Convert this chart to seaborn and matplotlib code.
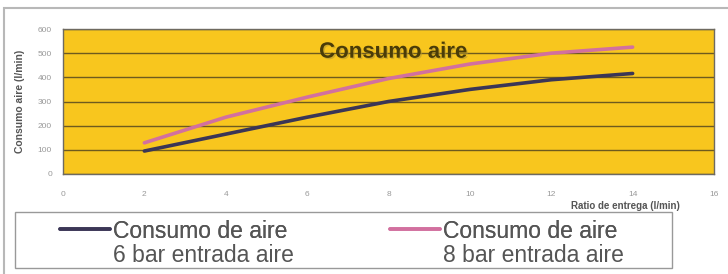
import numpy as np
import pandas as pd
import matplotlib
matplotlib.use('Agg')
import matplotlib.pyplot as plt
import matplotlib.patheffects as pe
from matplotlib.patches import Rectangle
import seaborn as sns

ratio = [2, 4, 6, 8, 10, 12, 14]
consumo_6bar = [95, 165, 235, 300, 350, 390, 416]
consumo_8bar = [129, 235, 318, 395, 455, 500, 525]
series_names = ['Consumo de aire\n6 bar entrada aire', 'Consumo de aire\n8 bar entrada aire']
colors = ['#3b3656', '#d2709f']

df = pd.DataFrame({
    'ratio': ratio * 2,
    'consumo': consumo_6bar + consumo_8bar,
    'serie': [series_names[0]] * len(ratio) + [series_names[1]] * len(ratio),
})

sns.set_style('white')
plt.rcParams['font.family'] = ['Liberation Sans', 'DejaVu Sans']

W, H = 728, 274
fig = plt.figure(figsize=(7.28, 2.74), dpi=100)
fig.patch.set_facecolor('white')
ax = fig.add_axes([63 / W, 1 - 174 / H, 651 / W, 145 / H])
ax.set_facecolor('#f8c61e')

sns.lineplot(data=df, x='ratio', y='consumo', hue='serie', palette=colors,
             linewidth=2.6, ax=ax, legend=False)

ax.set_xlim(0, 16)
ax.set_ylim(0, 600)
ax.set_xticks(range(0, 17, 2))
ax.set_yticks(range(0, 601, 100))
ax.yaxis.grid(True, color='#6e5a1e', linewidth=1.0)
ax.set_axisbelow(True)
for s in ax.spines.values():
    s.set_color('#6e6a60')
    s.set_linewidth(1.0)
ax.tick_params(axis='x', labelsize=6, colors='#999999', pad=12, length=3, direction='in')
ax.tick_params(axis='y', labelsize=6, colors='#999999', pad=8, length=0)
ax.set_xlabel('')
ax.set_ylabel('Consumo aire (l/min)', fontsize=7.5, color='#555555', labelpad=9, fontweight='bold')

ax.text(0.507, 0.84, 'Consumo aire', transform=ax.transAxes, ha='center', va='center',
        fontsize=16, fontweight='bold', color='#4a3c08',
        path_effects=[pe.withSimplePatchShadow(offset=(1, -1), shadow_rgbFace='#b89a30', alpha=0.6)])

fig.text(680 / W, 1 - 206 / H, 'Ratio de entrega (l/min)', ha='right', va='center',
         fontsize=7, color='#555555', fontweight='bold')

# outer frame
fig.patches.append(Rectangle((4 / W, -0.02), 1.0, 1 - 8 / H + 0.02, transform=fig.transFigure,
                             fill=False, edgecolor='#b8b8b8', linewidth=1.5))
# legend frame
fig.patches.append(Rectangle((15 / W, 1 - 268 / H), 657 / W, 56 / H, transform=fig.transFigure,
                             facecolor='white', edgecolor='#999999', linewidth=1.0))

fs = 16.5
hl, tp = 2.2, 0.1
handles = ax.get_lines()[:2]
for h, name, x0 in zip(handles, series_names, [60, 390]):
    first, second = name.split('\n')
    leg = fig.legend([h], [first], loc='center left',
                     bbox_to_anchor=(x0 / W, 1 - 231 / H),
                     fontsize=fs, frameon=False,
                     handlelength=hl, handletextpad=tp, borderpad=0, borderaxespad=0)
    for t in leg.get_texts():
        t.set_color('#555555')
    fig.add_artist(leg)
    tx = x0 + (hl + tp) * fs * 100 / 72
    fig.text(tx / W, 1 - 256 / H, second, ha='left', va='center', fontsize=fs, color='#555555')

fig.savefig('out.png', dpi=100)
